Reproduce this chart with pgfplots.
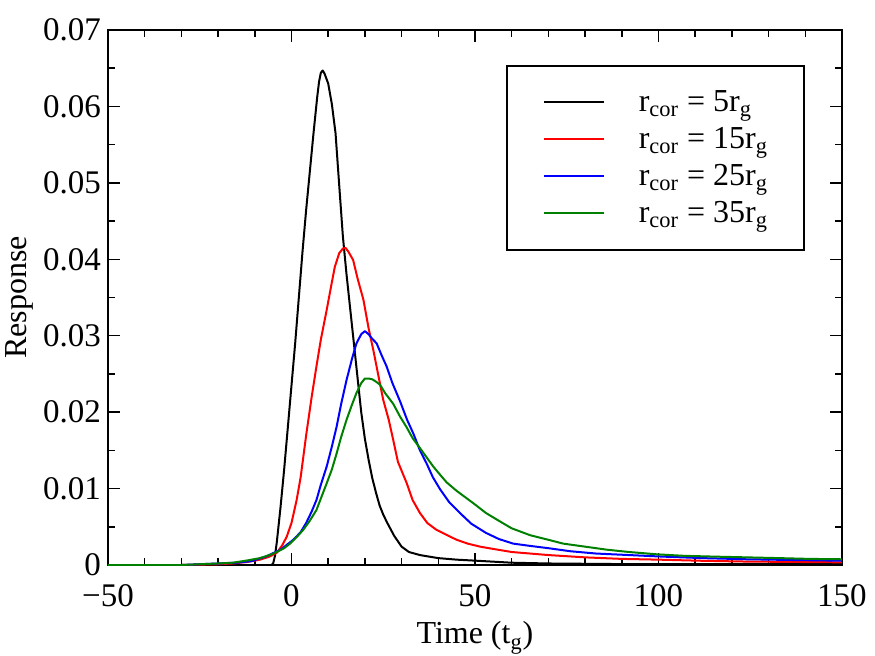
\documentclass[border=0pt]{standalone}
\usepackage{fontspec}
\setmainfont{Liberation Serif}
\usepackage{pgfplots}
\pgfplotsset{compat=1.18}
\definecolor{dgreen}{RGB}{0,128,0}
\begin{document}
\begin{tikzpicture}
\useasboundingbox (-54pt,-45pt) rectangle (383.5pt,282.5pt);
\begin{axis}[
  scale only axis,
  width=367pt, height=267.5pt,
  xmin=-50, xmax=150, ymin=0, ymax=0.07,
  xtick={-50,0,50,100,150},
  xticklabels={−50,0,50,100,150},
  ytick={0,0.01,0.02,0.03,0.04,0.05,0.06,0.07},
  yticklabels={0,0.01,0.02,0.03,0.04,0.05,0.06,0.07},
  scaled y ticks=false,
  minor x tick num=4,
  minor y tick num=1,
  tick align=inside,
  major tick length=6pt,
  minor tick length=3.5pt,
  every tick/.style={black, line width=0.75pt},
  axis line style={line width=1pt},
  tick label style={font=\fontsize{16.5}{18}\selectfont},
  xticklabel style={inner ysep=0pt, yshift=-9.5pt},
  yticklabel style={inner ysep=0pt},
  label style={font=\fontsize{16}{18}\selectfont},
  xlabel={Time (t\textsubscript{g})},
  ylabel={Response},
  xlabel style={yshift=-4pt},
  ylabel style={yshift=-2pt},
  legend cell align=left,
  legend image code/.code={\draw[#1] (0pt,0pt) -- (30pt,0pt);},
  legend style={at={(0.9496,0.9346)}, anchor=north east, draw=black, line width=1pt,
    font=\fontsize{16}{18}\selectfont, inner xsep=18pt, inner ysep=9pt,
    row sep=0pt, column sep=17pt,
    nodes={minimum height=18.5pt, inner sep=0pt, anchor=west}},
  every axis plot/.append style={line width=1pt, line join=round},
]
\addplot[black] coordinates {
(-50,0) (-6,0) (-5.5,0) (-5,0.0002) (-4.5,0.0012) (-4,0.003) (-3,0.0075) (-2,0.0125) (-1,0.018) (0,0.0235) (1,0.029) (2,0.035) (3,0.041) (4,0.0465) (5,0.0515) (6,0.0565) (7,0.0612) (7.5,0.0632) (8,0.0644) (8.5,0.0647) (9,0.0643) (10,0.063) (11,0.0603) (12,0.0565) (13,0.0497) (14,0.043) (15,0.038) (16,0.0335) (17,0.029) (18,0.0245) (19,0.0200) (20,0.0165) (21,0.0138) (22,0.0114) (23,0.0095) (24,0.0078) (25,0.0066) (26,0.0056) (28,0.0038) (30,0.0024) (32,0.0017) (35,0.0013) (40,0.0009) (45,0.0007) (50,0.00057) (60,0.0003) (70,0.0002) (90,0.00012) (150,0.0001)
};
\addlegendentry{r\textsubscript{cor} = 5r\textsubscript{g}}
\addplot[red] coordinates {
(-50,0) (-30,0) (-25,0.00005) (-20,0.0001) (-16,0.0002) (-12,0.0004) (-8.6,0.0007) (-6,0.0011) (-4,0.0016) (-2.5,0.0026) (-1.3,0.0037) (0,0.0055) (1.4,0.0085) (2.5,0.0115) (4,0.017) (5.5,0.022) (6.8,0.026) (8,0.0295) (9.6,0.0334) (11,0.037) (11.8,0.039) (13,0.0408) (14,0.0414) (14.7,0.0415) (15.5,0.041) (16.8,0.0399) (18,0.0375) (19.6,0.0347) (21,0.031) (22.3,0.0281) (24,0.024) (25,0.0216) (26.5,0.019) (27.7,0.0164) (29,0.0135) (31.4,0.0107) (33,0.0085) (35,0.0068) (37,0.0055) (39.5,0.0046) (42,0.004) (45,0.0033) (48,0.0028) (51.4,0.0024) (55,0.0021) (60,0.0017) (65,0.0015) (70,0.0013) (80,0.001) (90,0.0008) (100,0.0007) (112,0.00055) (124,0.00045) (137,0.0004) (150,0.00035)
};
\addlegendentry{r\textsubscript{cor} = 15r\textsubscript{g}}
\addplot[blue] coordinates {
(-50,0) (-30,0) (-25,0.0001) (-20,0.0002) (-15,0.0003) (-11,0.0005) (-7,0.0011) (-3,0.002) (0.5,0.0033) (2.5,0.0043) (4,0.0055) (5.5,0.007) (6.8,0.0085) (8,0.0105) (9.6,0.0129) (11,0.0155) (12.3,0.0181) (13.5,0.021) (15,0.0242) (16.5,0.027) (17.7,0.029) (19,0.0302) (20,0.0306) (21,0.0302) (22,0.0296) (23.2,0.029) (24.5,0.0275) (25.9,0.026) (27.5,0.0238) (29.6,0.0214) (31.5,0.019) (33.2,0.0172) (35,0.015) (36.8,0.0133) (38.5,0.0115) (40.5,0.0099) (43,0.0082) (45.9,0.0068) (49,0.0054) (53,0.0042) (56.5,0.0034) (60.4,0.0028) (65,0.0025) (70,0.0022) (76,0.0018) (83,0.0015) (92,0.0013) (101,0.0011) (112,0.0009) (124,0.00075) (137,0.00065) (150,0.00056)
};
\addlegendentry{r\textsubscript{cor} = 25r\textsubscript{g}}
\addplot[dgreen] coordinates {
(-50,0) (-30,0) (-25,0.0001) (-20,0.0002) (-16,0.0003) (-12,0.0006) (-8.6,0.0009) (-6,0.0013) (-4,0.0017) (-2,0.0022) (-0.4,0.0028) (1.5,0.0037) (3.2,0.0046) (5,0.0058) (6.8,0.0072) (8,0.0087) (9.6,0.0107) (11,0.0125) (12.3,0.0146) (13.5,0.0167) (15,0.019) (16.5,0.021) (17.7,0.0225) (19,0.0238) (20,0.0244) (21,0.0244) (22,0.0243) (23,0.0240) (24.1,0.0236) (25.5,0.0225) (27.7,0.0211) (29.6,0.0194) (31.4,0.018) (33,0.0166) (35,0.0153) (36.8,0.0141) (38.6,0.0129) (40.5,0.0118) (42.3,0.0108) (45,0.0097) (49.5,0.0081) (53,0.0068) (56.8,0.0057) (60,0.0048) (65,0.0039) (70,0.0033) (74,0.0028) (80,0.0024) (86,0.002) (92,0.0017) (99.5,0.0014) (107,0.0012) (115,0.0011) (124,0.001) (133,0.0009) (141,0.0008) (150,0.00075)
};
\addlegendentry{r\textsubscript{cor} = 35r\textsubscript{g}}
\end{axis}
\end{tikzpicture}
\end{document}
